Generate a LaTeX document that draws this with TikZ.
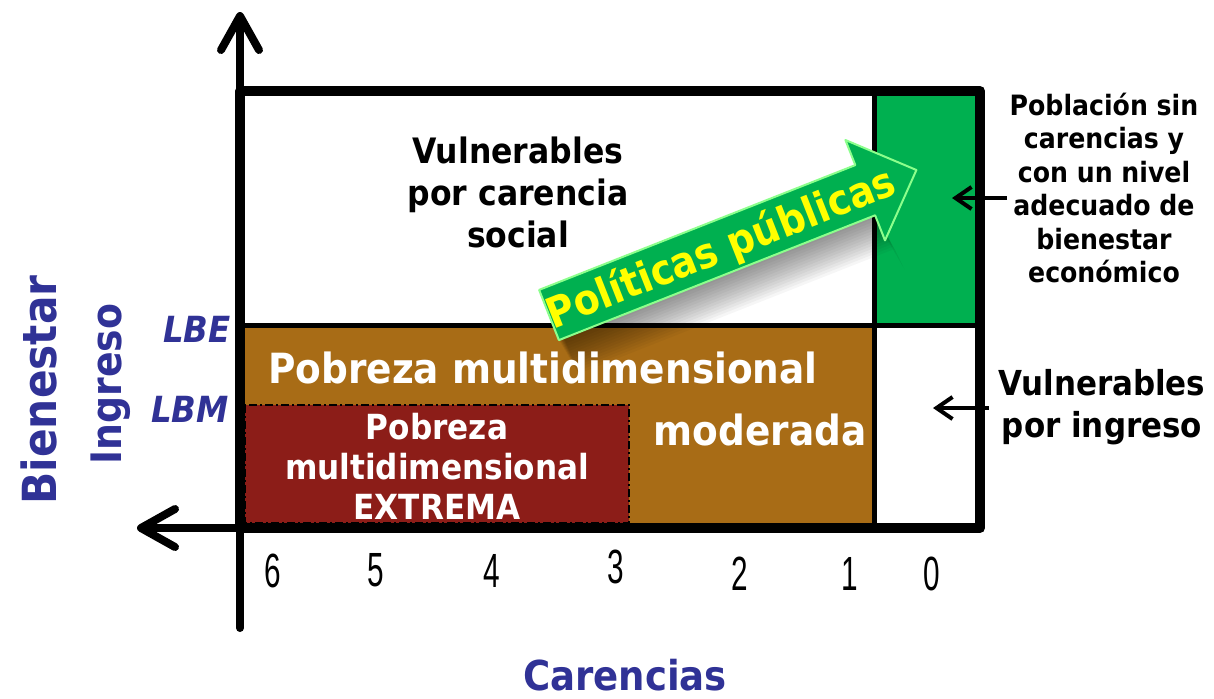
\documentclass[tikz,border=0pt]{standalone}
\usepackage{fontspec}
\setmainfont{DejaVu Sans Condensed}
\newfontfamily\numfont{Liberation Sans}
\usetikzlibrary{arrows.meta}
\definecolor{pbrown}{RGB}{168,108,22}
\definecolor{pred}{RGB}{140,29,24}
\definecolor{pgreen}{RGB}{0,176,80}
\definecolor{pblue}{RGB}{48,50,150}
\definecolor{pyellow}{RGB}{255,255,0}
\begin{document}
\begin{tikzpicture}[x=0.5pt,y=-0.5pt,
  blk/.style={font=\bfseries, align=center, inner sep=1pt},
  wht/.style={blk, text=white},
  axislbl/.style={font=\bfseries, text=pblue, inner sep=0pt},
  lineslbl/.style={font=\bfseries\itshape\fontsize{18}{18}\selectfont, text=pblue, inner sep=0pt},
  num/.style={font=\numfont\fontsize{24}{24}\selectfont, xscale=0.62, inner sep=0pt},
  axis/.style={line width=4pt, line cap=round, -{Straight Barb[length=17pt,width=19pt,line cap=round,line join=round]}},
  labarrow/.style={line width=2pt, -{Straight Barb[length=8pt,width=11pt]}},
  divider/.style={line width=2.5pt},
  outer/.style={line width=5pt, line join=round},
  extborder/.style={line width=0.8pt, dash pattern=on 4pt off 1.5pt on 1pt off 1.5pt}
]
\useasboundingbox (0,0) rectangle (1214,698);
% regions
\fill[white] (240,91) rectangle (874,325);
\fill[pgreen] (874,91) rectangle (980,325);
\fill[pbrown] (240,325) rectangle (874,528);
\fill[pred] (245,405) rectangle (629,523);
\draw[extborder] (245,405) rectangle (629,523);
% dividers and frame
\draw[divider] (240,325) -- (980,325);
\draw[divider] (874,91) -- (874,528);
\draw[outer] (240,91) rectangle (980,528);
% axes
\coordinate (ybot) at (240,628);
\coordinate (ytop) at (240,12);
\coordinate (xright) at (980,528);
\coordinate (xleft) at (137,528);
\draw[axis] (ybot) -- (ytop);
\draw[axis] (xright) -- (xleft);
% soft shadow of the policy arrow
\foreach \k in {1,...,14}{
  \fill[black, opacity=0.035, shift={(\k*0.7pt,-\k*1.2pt)}]
    (541,295) -- (853,172) -- (885,236) -- (875,215.3) -- (558.9,340.1) -- cycle;
}
% policy arrow
\draw[fill=pgreen, draw=green!45!white, line width=1pt, line join=round]
  (539.1,289.9) -- (855.3,165.1) -- (845.4,140.0) -- (916.4,170.0)
  -- (885.0,240.4) -- (875.1,215.3) -- (558.9,340.1) -- cycle;
\node[rotate=21.5, text=pyellow, font=\bfseries\fontsize{21}{21}\selectfont, inner sep=0pt] (pp) at (721.5,249.5) {Políticas públicas};
% region texts
\node[blk, font=\bfseries\fontsize{17.5}{21}\selectfont] (vcs) at (518,192) {Vulnerables\\por carencia\\social};
\node[wht, font=\bfseries\fontsize{20.8}{24}\selectfont] (pm) at (543,368) {Pobreza multidimensional};
\node[wht, font=\bfseries\fontsize{20.8}{24}\selectfont] (mod) at (760,430) {moderada};
\node[wht, font=\bfseries\fontsize{17.3}{20}\selectfont] (ext) at (437,466) {Pobreza\\multidimensional\\EXTREMA};
% right labels
\node[blk, font=\bfseries\fontsize{14}{16.75}\selectfont] (pob) at (1104,188) {Población sin\\carencias y\\con un nivel\\adecuado de\\bienestar\\económico};
\node[blk, font=\bfseries\fontsize{17.2}{21}\selectfont] (vi) at (1102,407) {Vulnerables\\por ingreso};
\coordinate (gtip) at (952,198);
\coordinate (wtip) at (933,408);
\draw[labarrow] (1007,198) -- (gtip);
\draw[labarrow] (989,408) -- (wtip);
% line labels
\node[lineslbl] (lbe) at (197,329) {LBE};
\node[lineslbl] (lbm) at (190,409) {LBM};
% axis titles
\node[axislbl, font=\bfseries\fontsize{23.5}{23.5}\selectfont, rotate=90] (bien) at (39,390) {Bienestar};
\node[axislbl, font=\bfseries\fontsize{21}{21}\selectfont, rotate=90] (ing) at (111,384) {Ingreso};
\node[axislbl, font=\bfseries\fontsize{20.6}{20.6}\selectfont] (car) at (625,675) {Carencias};
% numbers
\node[num] (n6) at (273,571) {6};
\node[num] (n5) at (376,570) {5};
\node[num] (n4) at (492,571) {4};
\node[num] (n3) at (616,567) {3};
\node[num] (n2) at (740,574) {2};
\node[num] (n1) at (850,574) {1};
\node[num] (n0) at (932,574) {0};
\end{tikzpicture}
\end{document}
